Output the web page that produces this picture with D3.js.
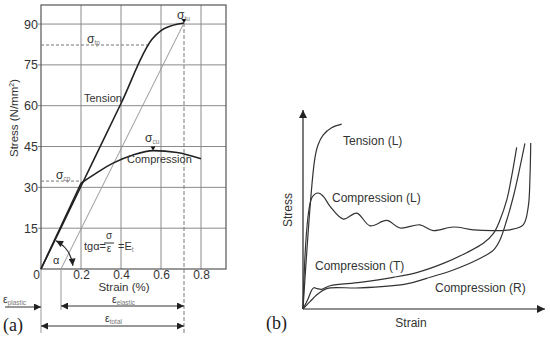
<!DOCTYPE html>
<html>
<head>
<meta charset="utf-8">
<script src="https://cdn.jsdelivr.net/npm/d3@7"></script>
<style>
  body { margin: 0; background: #fff; }
  svg { display: block; }
  text { font-family: "Liberation Sans", Arial, sans-serif; fill: #333; }
  .lab { font-family: "Liberation Serif", serif; fill: #222; }
</style>
</head>
<body>
<svg id="chart" width="550" height="342"></svg>
<script>
// ---- panel (a) data: bamboo stress-strain, stress in N/mm2, strain in %
var stressTicks = [15, 30, 45, 60, 75, 90]
var strainTicks = [0, 0.2, 0.4, 0.6, 0.8]
var tensionStrain = [0, 0.2, 0.4, 0.555, 0.6, 0.645, 0.715]
var tensionStress = [0, 30.4, 60.8, 84.4, 87.6, 89.2, 90.4]
var compStrain = [0, 0.2, 0.28, 0.36, 0.46, 0.56, 0.68, 0.8]
var compStress = [0, 31.5, 35.4, 38.9, 41.9, 43.5, 42.8, 40.5]
var plasticStrain = 0.1      // elastic unloading line hits the axis here
var ultTension = [0.715, 90.4]
var ultComp = [0.56, 43.5]
var propTension = 82.3       // sigma_tp
var propComp = 32.3          // sigma_cp

// ---- panel (b) data: schematic, arbitrary units 0-100
var tensionL_x = [0, 4.8, 6.2, 8.3, 11.8, 16]
var tensionL_y = [0, 74.9, 82.4, 87.4, 91.1, 92.9]
var compL_x = [0, 3.7, 6.3, 8.4, 11.2, 16.7, 22.2, 27.7, 34.6, 40.1, 48.3, 53.8, 62.1, 70.4, 78.6, 85.5, 91, 93.1, 93.8, 94.1]
var compL_y = [0, 56, 58.3, 56.6, 51.6, 45.2, 48.2, 41.8, 44.5, 40.7, 42.3, 39.4, 41.2, 39.8, 39.4, 39.8, 42.3, 51.6, 66.6, 83.4]
var compT_x = [0, 2.2, 3.6, 4.5, 5.9, 7.7, 11.2, 23.6, 37.3, 47, 58, 67.6, 74.5, 78.7, 81.4, 84.2, 86.2, 88.3]
var compT_y = [0, 5.4, 9.5, 10.7, 10.2, 9.9, 11.7, 13.4, 15.9, 18.3, 22.9, 28.3, 33, 38, 44.7, 54.8, 66.5, 81.2]
var compR_x = [0, 2.9, 5.6, 8.4, 11.2, 23.6, 42.8, 51.1, 62.1, 71.8, 78.7, 81.4, 84.2, 86.9, 89.7, 91.7]
var compR_y = [0, 3.7, 7, 9.5, 10.6, 10.6, 12.6, 15.4, 19.6, 24.6, 29.6, 34.7, 44.7, 56.4, 71.5, 83.2]

var zip = (xs, ys) => xs.map((x, i) => [x, ys[i]])

var svg = d3.select('#chart')

// arrow markers
var defs = svg.append('defs')
function addMarker(id, w, h, color) {
  defs.append('marker').attr('id', id)
    .attr('viewBox', '0 0 10 10').attr('refX', 10).attr('refY', 5)
    .attr('markerUnits', 'userSpaceOnUse')
    .attr('markerWidth', w).attr('markerHeight', h)
    .attr('orient', 'auto-start-reverse')
    .append('path').attr('d', 'M0,0L10,5L0,10Z').attr('fill', color)
}
addMarker('arr', 8, 7, '#222')
addMarker('arrB', 9, 8, '#222')

// ================= panel (a)
var x = d3.scaleLinear().domain([0, 0.925]).range([41, 226])
var y = d3.scaleLinear().domain([0, 97]).range([269, 5])
var ga = svg.append('g')

// grid
ga.selectAll('.vg').data(strainTicks.slice(1)).enter().append('line')
  .attr('x1', d => x(d)).attr('x2', d => x(d)).attr('y1', y(0)).attr('y2', y(97))
  .attr('stroke', '#8a8a8a').attr('stroke-width', 1)
ga.selectAll('.hg').data(stressTicks).enter().append('line')
  .attr('x1', x(0) - 3).attr('x2', x(0.925)).attr('y1', d => y(d)).attr('y2', d => y(d))
  .attr('stroke', '#8a8a8a').attr('stroke-width', 1)
ga.append('rect').attr('x', x(0)).attr('y', y(97))
  .attr('width', x(0.925) - x(0)).attr('height', y(0) - y(97))
  .attr('fill', 'none').attr('stroke', '#555').attr('stroke-width', 1.2)

// axes (labels only)
var yAxis = ga.append('g').attr('transform', 'translate(' + x(0) + ',0)')
  .call(d3.axisLeft(y).tickValues(stressTicks).tickSize(0).tickPadding(3))
var xAxis = ga.append('g').attr('transform', 'translate(0,' + y(0) + ')')
  .call(d3.axisBottom(x).tickValues(strainTicks).tickSize(0).tickPadding(1)
    .tickFormat(d => d === 0 ? '0' : d3.format('.1f')(d)))
;[yAxis, xAxis].forEach(a => {
  a.select('.domain').remove()
  a.selectAll('text').attr('font-size', 12.5).attr('fill', '#333')
    .attr('font-family', '"Liberation Sans", Arial, sans-serif')
})
xAxis.selectAll('text').attr('font-size', 12)
xAxis.selectAll('.tick').filter(d => d === 0).select('text').attr('dx', -5)

ga.append('text').attr('transform', 'translate(18,118) rotate(-90)')
  .attr('text-anchor', 'middle').attr('font-size', 11.5)
  .html('Stress (N/mm<tspan dy="-4" font-size="7">2</tspan><tspan dy="4">)</tspan>')
ga.append('text').attr('x', 124).attr('y', 291).attr('text-anchor', 'middle')
  .attr('font-size', 11.5).text('Strain (%)')

// dashed guides
var dash = '3,2'
ga.append('line').attr('x1', x(0)).attr('x2', x(propTension / 152))
  .attr('y1', y(propTension)).attr('y2', y(propTension))
  .attr('stroke', '#777').attr('stroke-dasharray', dash)
ga.append('line').attr('x1', x(0)).attr('x2', x(0.2))
  .attr('y1', y(propComp)).attr('y2', y(propComp))
  .attr('stroke', '#777').attr('stroke-dasharray', dash)
ga.append('line').attr('x1', x(ultTension[0])).attr('x2', x(ultTension[0]))
  .attr('y1', y(ultTension[1])).attr('y2', 333)
  .attr('stroke', '#777').attr('stroke-dasharray', '4,2')

// unloading line
ga.append('line').attr('x1', x(plasticStrain)).attr('y1', y(0))
  .attr('x2', x(ultTension[0])).attr('y2', y(ultTension[1]))
  .attr('stroke', '#999').attr('stroke-width', 1)

// extension lines below the plot
ga.append('line').attr('x1', x(0)).attr('x2', x(0)).attr('y1', y(0)).attr('y2', 333)
  .attr('stroke', '#999')
ga.append('line').attr('x1', x(plasticStrain)).attr('x2', x(plasticStrain))
  .attr('y1', y(0)).attr('y2', 310).attr('stroke', '#999')

// curves
var lineA = d3.line().x(d => x(d[0])).y(d => y(d[1])).curve(d3.curveMonotoneX)
ga.append('path').attr('d', lineA(zip(tensionStrain, tensionStress)))
  .attr('fill', 'none').attr('stroke', '#222').attr('stroke-width', 1.6)
var comp = zip(compStrain, compStress)
ga.append('path').attr('d', d3.line().x(d => x(d[0])).y(d => y(d[1]))(comp.slice(0, 2)))
  .attr('fill', 'none').attr('stroke', '#222').attr('stroke-width', 1.6)
ga.append('path').attr('d', lineA(comp.slice(1)))
  .attr('fill', 'none').attr('stroke', '#222').attr('stroke-width', 1.6)

// ultimate markers
;[ultTension, ultComp].forEach(p => {
  var px = x(p[0]), py = y(p[1])
  ga.append('path').attr('d', 'M' + (px - 2.5) + ',' + (py - 4) + 'L' + (px + 2.5) + ',' + (py - 4) + 'L' + px + ',' + py + 'Z')
    .attr('fill', '#111')
})

// sigma labels
function sigma(px, py, sub) {
  ga.append('text').attr('x', px).attr('y', py).attr('font-size', 12)
    .html('σ<tspan dy="2" font-size="6.5" fill="#777">' + sub + '</tspan>')
}
sigma(x(ultTension[0]) - 7, 19, 'tu')
sigma(x(ultComp[0]) - 8, 142, 'cu')
sigma(87, 43, 'tp')
sigma(56, 179, 'cp')

ga.append('text').attr('x', 84).attr('y', 102).attr('font-size', 11).text('Tension')
ga.append('text').attr('x', 127).attr('y', 163).attr('font-size', 11).text('Compression')

// angle arc
var r = 32, a0 = -Math.PI * 62 / 180, a1 = -Math.PI * 6 / 180
var arcP = d3.path()
arcP.arc(x(0), y(0), r, a0, a1)
ga.append('path').attr('d', arcP.toString()).attr('fill', 'none')
  .attr('stroke', '#222').attr('stroke-width', 1.3)
  .attr('marker-start', 'url(#arr)').attr('marker-end', 'url(#arr)')
ga.append('text').attr('x', 53).attr('y', 264).attr('font-size', 11).text('α')

// modulus formula
ga.append('text').attr('x', 84).attr('y', 250).attr('font-size', 11).text('tgα=')
ga.append('text').attr('x', 109).attr('y', 239).attr('font-size', 10).attr('text-anchor', 'middle').text('σ')
ga.append('line').attr('x1', 104).attr('x2', 114).attr('y1', 243).attr('y2', 243).attr('stroke', '#333')
ga.append('text').attr('x', 109).attr('y', 252).attr('font-size', 10).attr('text-anchor', 'middle').text('ε')
ga.append('text').attr('x', 118).attr('y', 250).attr('font-size', 11)
  .html('=E<tspan dy="2" font-size="6.5" fill="#777">t</tspan>')

// strain arrows
function dimArrow(x1, x2, yy, start, end) {
  var l = ga.append('line').attr('x1', x1).attr('x2', x2).attr('y1', yy).attr('y2', yy)
    .attr('stroke', '#333').attr('stroke-width', 1)
  if (start) l.attr('marker-start', 'url(#arr)')
  if (end) l.attr('marker-end', 'url(#arr)')
}
dimArrow(5, x(0), 307, false, true)
dimArrow(x(plasticStrain), x(ultTension[0]), 306, true, true)
dimArrow(x(0), x(ultTension[0]), 326, true, true)
function eps(px, py, sub) {
  ga.append('text').attr('x', px).attr('y', py).attr('font-size', 10.5)
    .html('ε<tspan dy="2" font-size="6.5" fill="#777">' + sub + '</tspan>')
}
eps(3, 303, 'plastic')
eps(112, 303, 'elastic')
eps(105, 322, 'total')
ga.append('text').attr('class', 'lab').attr('x', 3).attr('y', 331).attr('font-size', 18).text('(a)')

// ================= panel (b)
var xb = d3.scaleLinear().domain([0, 100]).range([303, 545])
var yb = d3.scaleLinear().domain([0, 100]).range([309, 110])
var gb = svg.append('g')
gb.append('line').attr('x1', xb(0)).attr('x2', xb(0)).attr('y1', yb(0)).attr('y2', yb(100))
  .attr('stroke', '#222').attr('stroke-width', 1.2).attr('marker-end', 'url(#arrB)')
gb.append('line').attr('x1', xb(0)).attr('x2', xb(100)).attr('y1', yb(0)).attr('y2', yb(0))
  .attr('stroke', '#222').attr('stroke-width', 1.2).attr('marker-end', 'url(#arrB)')

var lineB = d3.line().x(d => xb(d[0])).y(d => yb(d[1])).curve(d3.curveCatmullRom.alpha(0.5))
;[[tensionL_x, tensionL_y], [compL_x, compL_y], [compT_x, compT_y], [compR_x, compR_y]].forEach(s => {
  gb.append('path').attr('d', lineB(zip(s[0], s[1])))
    .attr('fill', 'none').attr('stroke', '#333').attr('stroke-width', 1.2)
})

gb.append('text').attr('transform', 'translate(292,210) rotate(-90)')
  .attr('text-anchor', 'middle').attr('font-size', 12).text('Stress')
gb.append('text').attr('x', 411).attr('y', 327).attr('text-anchor', 'middle')
  .attr('font-size', 12).text('Strain')
gb.append('text').attr('x', 343).attr('y', 145).attr('font-size', 12).text('Tension (L)')
gb.append('text').attr('x', 332).attr('y', 202).attr('font-size', 12).text('Compression (L)')
gb.append('text').attr('x', 315).attr('y', 270).attr('font-size', 12).text('Compression (T)')
gb.append('text').attr('x', 435).attr('y', 292).attr('font-size', 12).text('Compression (R)')
gb.append('text').attr('class', 'lab').attr('x', 266).attr('y', 329).attr('font-size', 18).text('(b)')
</script>
</body>
</html>
